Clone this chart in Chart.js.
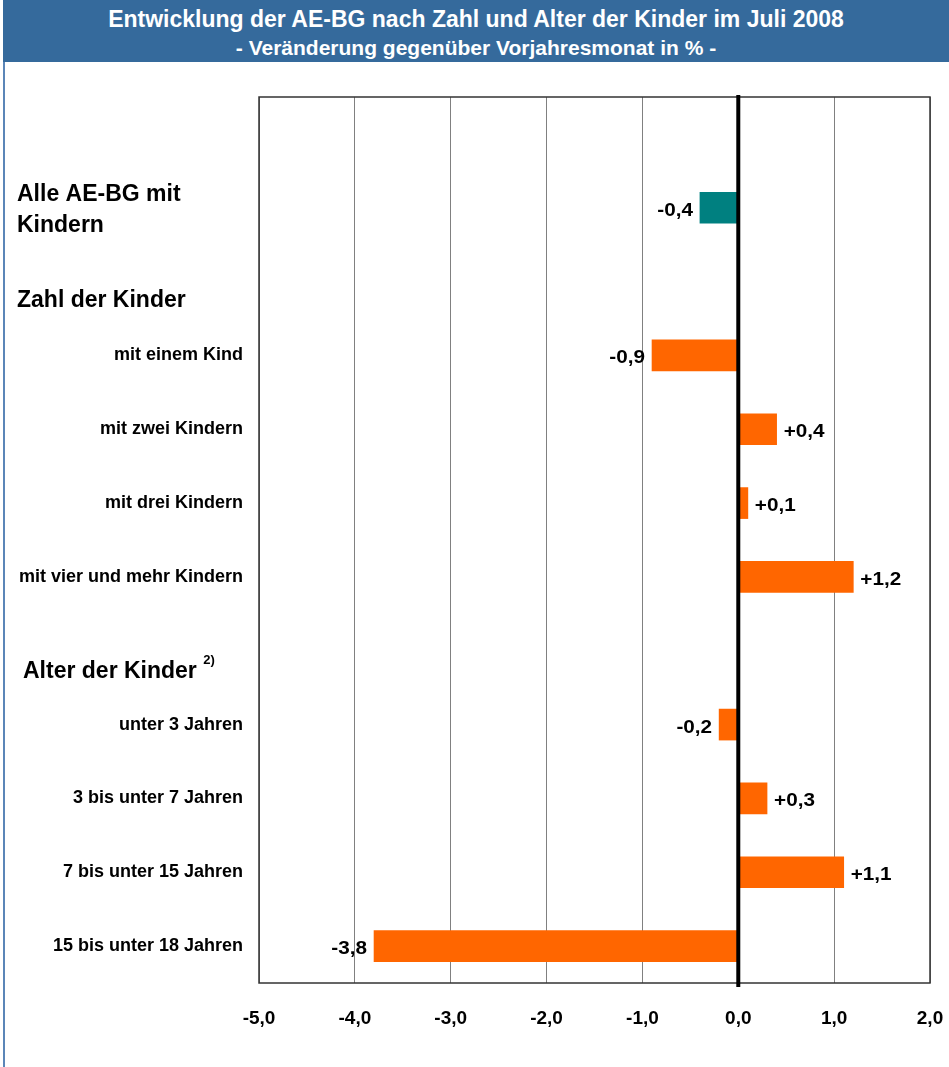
<!DOCTYPE html>
<html lang="de">
<head>
    <meta charset="UTF-8">
    <title>Entwicklung der AE-BG nach Zahl und Alter der Kinder</title>
    <script src="https://cdn.jsdelivr.net/npm/chart.js"></script>
    <style>
        body { margin: 0; background: #fff; font-family: "Liberation Sans", Arial, sans-serif; }
        .page { position: relative; width: 949px; height: 1067px; overflow: hidden; }
        .edge { position: absolute; left: 3px; top: 0; width: 2px; height: 1067px; background: #5b86b8; }
        .banner {
            position: absolute; left: 3px; top: 0; width: 946px; height: 62px;
            background: #356a9c; color: #fff; text-align: center; font-weight: bold;
        }
        .banner .t1 { font-size: 23px; position: absolute; left: 0; right: 0; top: 6px; }
        .banner .t2 { font-size: 21px; position: absolute; left: 0; right: 0; top: 36px; }
        canvas { position: absolute; left: 0; top: 0; }
    </style>
</head>
<body>
<div class="page">
    <canvas id="chart" width="949" height="1067"></canvas>
    <div class="edge"></div>
    <div class="banner">
        <div class="t1">Entwicklung der AE-BG nach Zahl und Alter der Kinder im Juli 2008</div>
        <div class="t2">- Veränderung gegenüber Vorjahresmonat in % -</div>
    </div>
</div>

<script>
    // categories (top to bottom), header rows carry no bar
    const categories = ['', 'Alle AE-BG mit Kindern', 'Zahl der Kinder', 'mit einem Kind', 'mit zwei Kindern',
        'mit drei Kindern', 'mit vier und mehr Kindern', 'Alter der Kinder', 'unter 3 Jahren',
        '3 bis unter 7 Jahren', '7 bis unter 15 Jahren', '15 bis unter 18 Jahren'];
    const tickLabels = ['', '', '', 'mit einem Kind', 'mit zwei Kindern', 'mit drei Kindern',
        'mit vier und mehr Kindern', '', 'unter 3 Jahren', '3 bis unter 7 Jahren',
        '7 bis unter 15 Jahren', '15 bis unter 18 Jahren'];
    const values = [null, -0.4, null, -0.9, 0.4, 0.1, 1.2, null, -0.2, 0.3, 1.1, -3.8];
    const xTicks = [-5, -4, -3, -2, -1, 0, 1, 2];

    const FONT = '"Liberation Sans", Arial, sans-serif';
    const fmt = v => (v > 0 ? '+' : '') + v.toFixed(1).replace('.', ',');

    // value labels at the bar ends (slightly widened like the original)
    const valueLabels = {
        id: 'valueLabels',
        afterDatasetsDraw(chart) {
            const ctx = chart.ctx;
            const meta = chart.getDatasetMeta(0);
            ctx.save();
            ctx.font = 'bold 18px ' + FONT;
            ctx.fillStyle = '#000';
            ctx.textBaseline = 'middle';
            meta.data.forEach((bar, i) => {
                const v = values[i];
                if (v === null) return;
                ctx.save();
                if (v < 0) {
                    ctx.translate(bar.x - 7, bar.y + 3);
                    ctx.textAlign = 'right';
                } else {
                    ctx.translate(bar.x + 7, bar.y + 3);
                    ctx.textAlign = 'left';
                }
                ctx.scale(1.15, 1);
                ctx.fillText(fmt(v), 0, 0);
                ctx.restore();
            });
            ctx.restore();
        }
    };

    // plot frame, zero line and the group headings on the left
    const frameAndHeads = {
        id: 'frameAndHeads',
        beforeDatasetsDraw(chart) {
            const { ctx, chartArea: a } = chart;
            ctx.save();
            ctx.strokeStyle = '#333';
            ctx.lineWidth = 1.5;
            ctx.strokeRect(a.left, a.top, a.right - a.left, a.bottom - a.top);
            ctx.restore();
        },
        afterDatasetsDraw(chart) {
            const { ctx, chartArea: a, scales } = chart;
            const x0 = scales.x.getPixelForValue(0);
            ctx.save();
            ctx.strokeStyle = '#000';
            ctx.lineWidth = 4;
            ctx.beginPath();
            ctx.moveTo(x0, a.top - 2);
            ctx.lineTo(x0, a.bottom + 4);
            ctx.stroke();

            const y = scales.y;
            ctx.fillStyle = '#000';
            ctx.textAlign = 'left';
            ctx.textBaseline = 'middle';
            ctx.font = 'bold 23px ' + FONT;
            const yAll = y.getPixelForValue(1);
            ctx.fillText('Alle AE-BG mit', 17, yAll - 13);
            ctx.fillText('Kindern', 17, yAll + 18);
            ctx.fillText(categories[2], 17, y.getPixelForValue(2) + 19);
            const yAlt = y.getPixelForValue(7) + 21;
            ctx.fillText(categories[7], 23, yAlt);
            const w = ctx.measureText(categories[7] + ' ').width;
            ctx.font = 'bold 13px ' + FONT;
            ctx.fillText('2)', 23 + w, yAlt - 11);
            ctx.restore();
        }
    };

    new Chart(document.getElementById('chart'), {
        type: 'bar',
        data: {
            labels: categories,
            datasets: [{
                data: values,
                backgroundColor: values.map((v, i) => i === 1 ? '#008080' : '#ff6600'),
                barThickness: 31,
                borderWidth: 0
            }]
        },
        options: {
            indexAxis: 'y',
            responsive: false,
            animation: false,
            layout: { padding: { top: 97, right: 19, left: 0, bottom: 0 } },
            plugins: { legend: { display: false }, tooltip: { enabled: false }, title: { display: false } },
            scales: {
                x: {
                    min: -5,
                    max: 2,
                    afterBuildTicks: s => { s.ticks = xTicks.map(v => ({ value: v })); },
                    afterFit: s => { s.height = 84; s.paddingLeft = 0; s.paddingRight = 0; },
                    grid: {
                        color: '#808080',
                        lineWidth: 1,
                        drawTicks: false
                    },
                    border: { display: false },
                    ticks: {
                        padding: 24,
                        color: '#000',
                        maxRotation: 0,
                        font: { family: FONT, size: 19, weight: 'bold' },
                        callback: v => v.toFixed(1).replace('.', ',')
                    }
                },
                y: {
                    afterFit: s => { s.width = 259; },
                    grid: { display: false, drawTicks: false },
                    border: { display: false },
                    ticks: {
                        padding: 16,
                        color: '#000',
                        autoSkip: false,
                        font: { family: FONT, size: 18, weight: 'bold' },
                        callback: (v, i) => tickLabels[i]
                    }
                }
            }
        },
        plugins: [frameAndHeads, valueLabels]
    });
</script>
</body>
</html>
